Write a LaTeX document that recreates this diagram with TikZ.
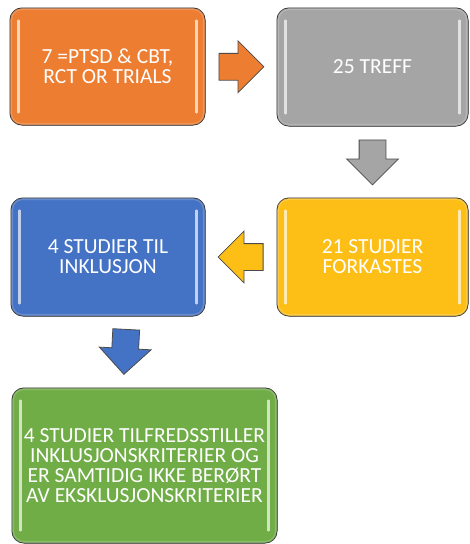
\documentclass[tikz,border=0pt]{standalone}
\usepackage{fontspec}
\setmainfont{Carlito}
\usetikzlibrary{shapes.arrows,calc,positioning}
\definecolor{flowOrange}{HTML}{ED7D31}
\definecolor{flowGray}{HTML}{A5A5A5}
\definecolor{flowGold}{HTML}{FDBF15}
\definecolor{flowBlue}{HTML}{4472C4}
\definecolor{flowGreen}{HTML}{70AD47}
\definecolor{flowEdge}{HTML}{1E1E1E}

\begin{document}
\begin{tikzpicture}[x=1pt,y=-1pt,
  box/.style={draw=flowEdge,line width=1pt,fill=#1,rounded corners=12pt,text=white,align=center,font=\fontsize{21.5}{20}\selectfont,inner sep=0pt},
  rim/.style={draw=#1!65!white,line width=2pt,rounded corners=10.5pt,opacity=0.55},
  blockarrow/.style={single arrow,anchor=tail,draw=flowEdge!80,line width=0.8pt,fill=#1,minimum height=45pt,minimum width=51pt,single arrow head extend=12.5pt,inner xsep=0pt,inner ysep=13pt},
  hilite/.style={draw=#1!25!white,line width=2.2pt,line cap=round,opacity=0.9}]
\useasboundingbox (0,0) rectangle (469,544);
% boxes
\node[box=flowOrange,minimum width=195pt,minimum height=117pt] (ptsd) at (107.5,66.5) {7 =PTSD \& CBT,\\RCT OR TRIALS};
\node[box=flowGray,minimum width=191pt,minimum height=118pt] (treff) at (372.5,67) {25 TREFF};
\node[box=flowGold,minimum width=191pt,minimum height=118pt] (forkastes) at (372.5,257) {21 STUDIER\\FORKASTES};
\node[box=flowBlue,minimum width=194pt,minimum height=118pt] (inklusjon) at (108,257) {4 STUDIER TIL\\INKLUSJON};
\node[box=flowGreen,minimum width=265pt,minimum height=155pt] (kriterier) at (144.5,465.5) {4 STUDIER TILFREDSSTILLER\\INKLUSJONSKRITERIER OG\\ER SAMTIDIG IKKE BERØRT\\AV EKSKLUSJONSKRITERIER};
\foreach \n/\c in {ptsd/flowOrange,treff/flowGray,forkastes/flowGold,inklusjon/flowBlue,kriterier/flowGreen}{
  \draw[rim=\c] ($(\n.north west)+(1.6,1.6)$) rectangle ($(\n.south east)+(-1.6,-1.6)$);
  \draw[hilite=\c] ($(\n.north west)+(9,13)$) -- ($(\n.south west)+(9,-13)$);
  \draw[hilite=\c] ($(\n.north east)+(-9,13)$) -- ($(\n.south east)+(-9,-13)$);
}
% arrows
\node[blockarrow=flowOrange] (a1) at ($(ptsd.east)!0.5!(treff.west)+(-22.5,0)$) {};
\node[blockarrow=flowGray,rotate=-90] (a2) at ($(treff.south)!0.5!(forkastes.north)+(0,-22.5)$) {};
\node[blockarrow=flowGold,rotate=180] (a3) at ($(forkastes.west)!0.5!(inklusjon.east)+(22.5,0)$) {};
\node[blockarrow=flowBlue,rotate=-93] (a4) at ($(inklusjon.south)!0.5!(kriterier.north)+(0,-23)$) {};
\end{tikzpicture}
\end{document}
